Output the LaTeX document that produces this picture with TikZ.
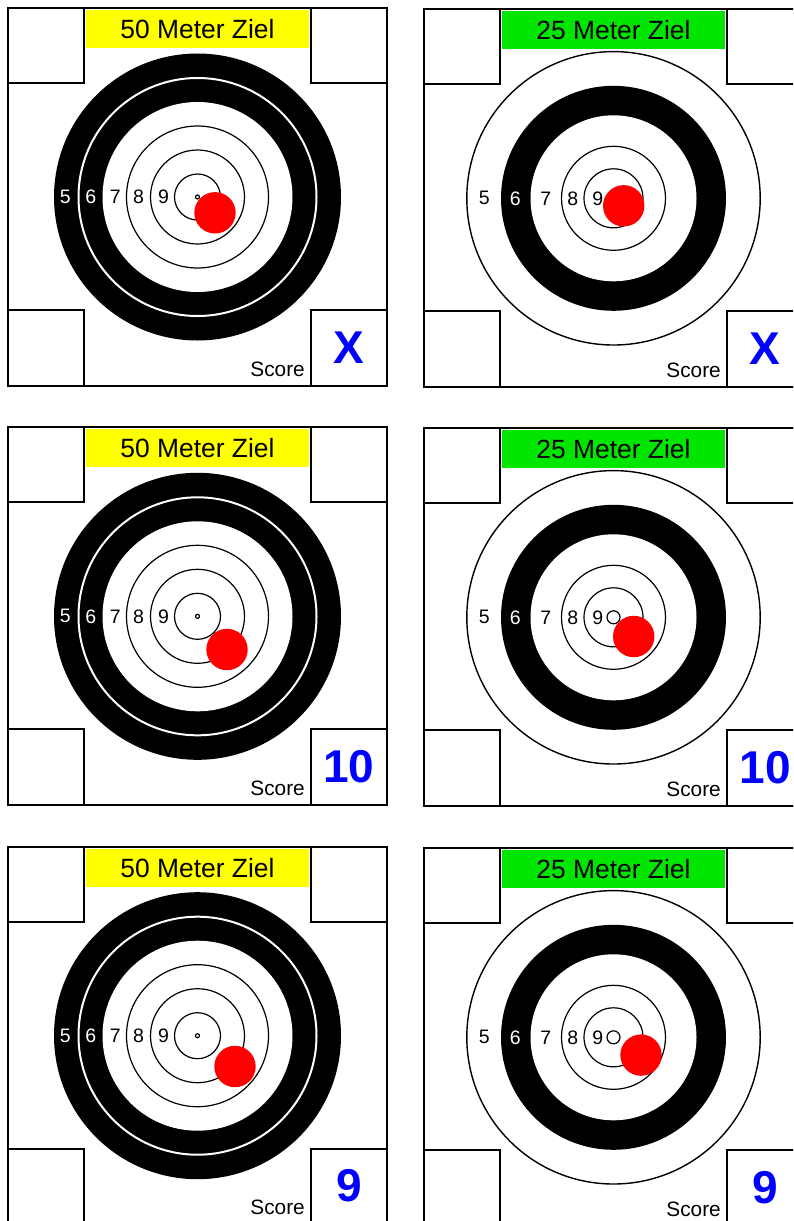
\documentclass[tikz,border=0pt]{standalone}
\usepackage{fontspec}
\setmainfont{Liberation Sans}
\definecolor{cHeadF}{RGB}{255,255,0}
\definecolor{cHeadT}{RGB}{0,230,0}
\definecolor{cShot}{RGB}{255,0,0}
\definecolor{cScore}{RGB}{0,0,255}

% rings of the 50 m target (#1: panel id)
\newcommand{\ringsfifty}[1]{%
  \fill[black] (189.5,189) circle[radius=143.5pt];
  \draw[white,line width=2pt] (189.5,189) circle[radius=119pt];
  \fill[white] (189.5,189) circle[radius=95pt];
  \foreach \r in {71,47,23,2}
    \draw[ring] (189.5,189) circle[radius=\r pt];
  \foreach \n/\xn/\col in {5/57.2/white,6/82.9/white,7/107.2/black,8/130.5/black,9/155.5/black}
    \node[ringnum,text=\col] (num#1-\n) at (\xn,189) {\n};
}
% rings of the 25 m target (#1: panel id)
\newcommand{\ringstwentyfive}[1]{%
  \draw[ring,line width=1.4pt,fill=white] (189.5,189) circle[radius=146.7pt];
  \fill[black] (189.5,189) circle[radius=112.5pt];
  \fill[white] (189.5,189) circle[radius=83pt];
  \foreach \r in {52,29.5,6.5}
    \draw[ring] (189.5,189) circle[radius=\r pt];
  \foreach \n/\xn/\col in {5/60.2/black,6/91.2/white,7/121.9/black,8/148.9/black,9/173.9/black}
    \node[ringnum,text=\col] (num#1-\n) at (\xn,189) {\n};
}
% one target sheet: #1 id, #2 shift, #3 header colour, #4 distance,
% #5 rings macro, #6/#7 shot position, #8 score
\newcommand{\targetsheet}[8]{%
  \begin{scope}[shift={#2}]
    \draw[frame] (0,0) rectangle (379,378);
    #5{#1}
    \draw[frame,fill=white] (0,0) rectangle (76,75);
    \draw[frame,fill=white] (303,0) rectangle (379,75);
    \draw[frame,fill=white] (0,302) rectangle (76,378);
    \draw[frame,fill=white] (303,302) rectangle (379,378);
    \node[headbox,fill=#3] (head#1) at (189.5,21) {#4 Meter Ziel};
    \fill[shot] (#6,#7) circle[radius=20.7pt];
    \node[scorelbl] (lbl#1) at (297,368) {Score};
    \node[scoreval] (val#1) at (341,355) {#8};
  \end{scope}
}

\begin{document}
\begin{tikzpicture}[
  x=1pt, y=-1pt,
  frame/.style   ={draw=black, line width=2pt},
  ring/.style    ={draw=black, line width=1.2pt},
  ringnum/.style ={inner sep=0pt, font=\fontsize{19.5}{22}\selectfont},
  headbox/.style ={inner sep=0pt, minimum width=223pt, minimum height=38pt,
                   font=\fontsize{26.4}{30}\selectfont},
  shot/.style    ={fill=cShot},
  scorelbl/.style={anchor=base east, inner sep=0pt,
                   font=\fontsize{20.8}{24}\selectfont},
  scoreval/.style={anchor=base, inner sep=0pt, text=cScore,
                   font=\fontsize{46}{50}\selectfont\bfseries},
]
\useasboundingbox (0,0) rectangle (793,1221);
\clip (0,0) rectangle (793,1221);

% ----- 50 m column -------------------------------------------------------
\targetsheet{a}{(8,8)}{cHeadF}{50}{\ringsfifty}{207}{204.8}{X}
\targetsheet{b}{(8,427.3)}{cHeadF}{50}{\ringsfifty}{219}{222.2}{10}
\targetsheet{c}{(8,846.7)}{cHeadF}{50}{\ringsfifty}{227}{219.8}{9}

% ----- 25 m column -------------------------------------------------------
\targetsheet{d}{(424,9.3)}{cHeadT}{25}{\ringstwentyfive}{199.7}{196.5}{X}
\targetsheet{e}{(424,428.3)}{cHeadT}{25}{\ringstwentyfive}{209.7}{208.2}{10}
\targetsheet{f}{(424,848.3)}{cHeadT}{25}{\ringstwentyfive}{217}{206.8}{9}

\end{tikzpicture}
\end{document}
